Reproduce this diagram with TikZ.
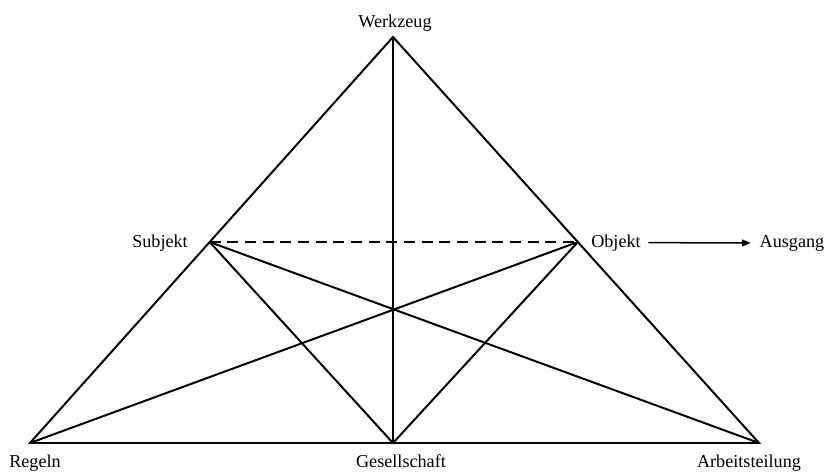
\documentclass[tikz,border=0pt]{standalone}
\usepackage{fontspec}
\setmainfont{Liberation Serif}
\usepackage{tikz}
\usetikzlibrary{arrows.meta,positioning,calc}
\tikzset{
  lbl/.style={inner sep=0pt,anchor=base,font=\fontsize{15.5}{18}\selectfont},
  edge/.style={line width=1.7pt,line join=miter},
  dsh/.style={line width=1.7pt,dash pattern=on 0.33cm off 0.2cm},
  sig/.style={-{Triangle[length=2.6mm,width=2mm]},line width=1.3pt}
}

\begin{document}
\begin{tikzpicture}[x=0.03cm,y=-0.03cm]
  \useasboundingbox (0,0) rectangle (827,472);
  % ---- corners of the triangle ----
  \coordinate (top) at (393,37);
  \coordinate (left) at (30,443);
  \coordinate (right) at (759,443);
  \coordinate (mid) at (393,443);
  \coordinate (subj) at ($(left)!0.495!(top)$);
  \coordinate (obj) at ($(right)!0.495!(top)$);
  % ---- labels ----
  \node[lbl] (werk) at (395,27) {Werkzeug};
  \node[lbl] (subjl) at (160,247) {Subjekt};
  \node[lbl] (objl) at (616,247) {Objekt};
  \node[lbl] (aus) at (792,247) {Ausgang};
  \node[lbl] (reg) at (35,467) {Regeln};
  \node[lbl] (ges) at (401,467) {Gesellschaft};
  \node[lbl] (arb) at (749,467) {Arbeitsteilung};
  % outer triangle and vertical
  \draw[edge] (left) -- (top) -- (right) -- cycle;
  \draw[edge] (top) -- (mid);
  % inner lines
  \draw[edge] (subj) -- (mid) -- (obj);
  \draw[edge] (subj) -- (right);
  \draw[edge] (obj) -- (left);
  \draw[dsh] (subj) -- (obj);
  % output
  \draw[sig] ([xshift=2.2mm]objl.east) -- ([xshift=-2.6mm]aus.west);
\end{tikzpicture}
\end{document}
